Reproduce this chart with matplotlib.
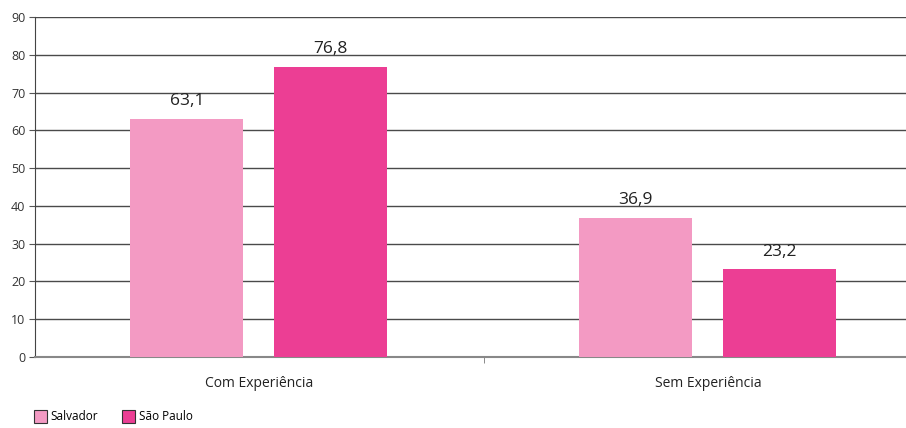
import numpy as np
import matplotlib.pyplot as plt
from matplotlib.patches import Patch

# data
categories = ["Com Experiência", "Sem Experiência"]
series_names = ["Salvador", "São Paulo"]
salvador = [63.1, 36.9]
sao_paulo = [76.8, 23.2]
yticks = list(range(0, 100, 10))

colors = ["#F39AC3", "#EC3E94"]

plt.rcParams['font.family'] = ['Open Sans', 'DejaVu Sans']

fig = plt.figure(figsize=(9.06, 4.28), dpi=100)
# axes runs past the right edge like the original (cropped)
ax = fig.add_axes([35 / 906, 71 / 428, 898 / 906, 340 / 428])

x = np.arange(len(categories))
width = 0.252
offset = 0.16

for vals, off, col in [(salvador, -offset, colors[0]), (sao_paulo, offset, colors[1])]:
    bars = ax.bar(x + off - 0.002, vals, width, color=col, zorder=3)
    for b, v in zip(bars, vals):
        ax.annotate(f"{v:.1f}".replace(".", ","), (b.get_x() + b.get_width() / 2, v),
                    xytext=(0, 7), textcoords="offset points", ha="center", va="bottom",
                    fontsize=12.5, color="#222222")

ax.set_xlim(-0.5, 1.5)
ax.set_ylim(0, 90)
ax.set_yticks(yticks)
ax.set_yticklabels([str(t) for t in yticks], fontsize=9, color="#333333")
ax.yaxis.grid(True, color="#4a4a4a", linewidth=1.0, zorder=0)
ax.set_axisbelow(True)

ax.set_xticks([0.5], minor=True)
ax.set_xticks(x)
ax.set_xticklabels(categories, fontsize=10, color="#222222")
ax.tick_params(axis="x", which="major", length=0, pad=14)
ax.tick_params(axis="x", which="minor", length=4, color="#777777")
ax.tick_params(axis="y", length=4, color="#555555", pad=3)

for s in ["top", "right"]:
    ax.spines[s].set_visible(False)
ax.spines["left"].set_color("#444444")
ax.spines["bottom"].set_color("#888888")
ax.spines["bottom"].set_linewidth(1.5)

handles = [Patch(facecolor=c, edgecolor="#333333", linewidth=0.8, label=n)
           for c, n in zip(colors, series_names)]
fig.legend(handles=handles, loc="lower left", bbox_to_anchor=(0.03, -0.005), ncol=2,
           frameon=False, fontsize=8.5, handlelength=1.1, handleheight=1.3,
           handletextpad=0.3, columnspacing=2.0, borderaxespad=0.2)

fig.savefig("out.png", dpi=100)
